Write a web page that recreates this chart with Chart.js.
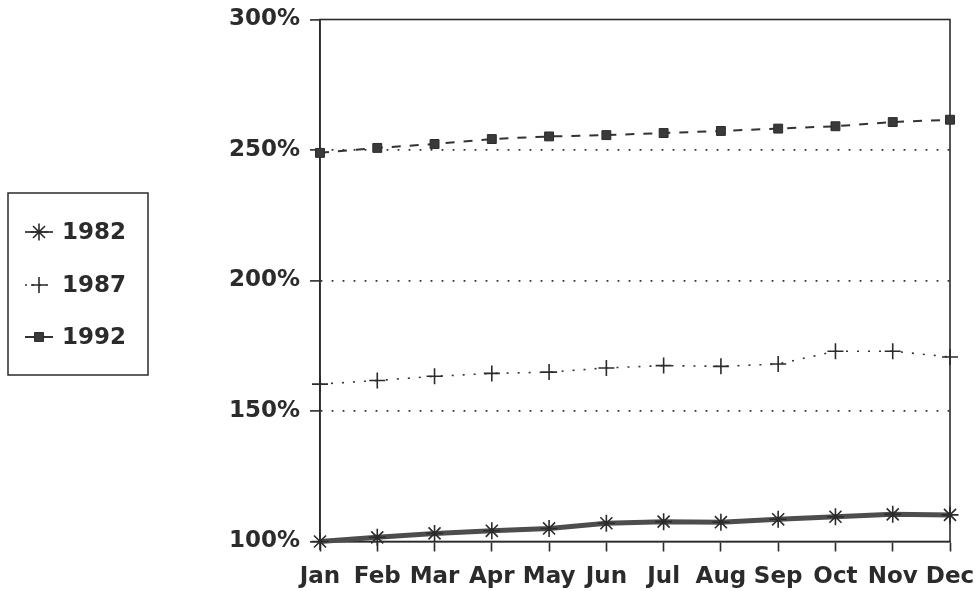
<!DOCTYPE html>
<html>
<head>
<meta charset="utf-8">
<script src="https://cdn.jsdelivr.net/npm/chart.js@4/dist/chart.umd.min.js"></script>
<style>
  html, body { margin: 0; padding: 0; background: #ffffff; }
  #wrap { width: 977px; height: 591px; position: relative; }
</style>
</head>
<body>
<div id="wrap"><canvas id="c" width="977" height="591"></canvas></div>
<script>
const months = ['Jan', 'Feb', 'Mar', 'Apr', 'May', 'Jun', 'Jul', 'Aug', 'Sep', 'Oct', 'Nov', 'Dec'];
const seriesNames = ['1982', '1987', '1992'];
const values1982 = [100, 101.6, 103.1, 104.1, 105.0, 107.0, 107.6, 107.4, 108.5, 109.5, 110.4, 110.2];
const values1987 = [160.3, 161.7, 163.3, 164.4, 164.9, 166.5, 167.4, 167.1, 168.0, 172.9, 172.9, 170.7];
const values1992 = [248.9, 250.8, 252.3, 254.2, 255.2, 255.7, 256.5, 257.3, 258.2, 259.1, 260.7, 261.6];
const yTickValues = [100, 150, 200, 250, 300];
const yTickSuffix = '%';

const INK = '#2b2b2b';
const FONT = { family: 'DejaVu Sans', weight: 'bold', size: 23 };

const framePlugin = {
  id: 'frame',
  beforeDatasetsDraw(chart) {
    const { ctx, chartArea: a } = chart;
    ctx.save();
    ctx.strokeStyle = INK;
    ctx.lineWidth = 1.6;
    ctx.setLineDash([]);
    ctx.strokeRect(a.left, a.top, a.right - a.left, a.bottom - a.top);
    ctx.restore();
  }
};

const boxLegendPlugin = {
  id: 'boxLegend',
  afterDraw(chart) {
    const { ctx } = chart;
    const box = { x: 8, y: 193, w: 140, h: 182 };
    ctx.save();
    ctx.strokeStyle = INK;
    ctx.fillStyle = INK;
    ctx.lineWidth = 1.5;
    ctx.setLineDash([]);
    ctx.strokeRect(box.x, box.y, box.w, box.h);
    const rowY = [232, 285, 337];
    chart.data.datasets.forEach((ds, i) => {
      const y = rowY[i];
      ctx.save();
      ctx.strokeStyle = ds.borderColor;
      ctx.lineWidth = Math.min(ds.borderWidth, 2);
      ctx.setLineDash(ds.legendDash || []);
      ctx.beginPath();
      ctx.moveTo(25, y);
      ctx.lineTo(53, y);
      ctx.stroke();
      ctx.restore();
      ctx.save();
      ctx.strokeStyle = ds.pointBorderColor;
      ctx.fillStyle = ds.pointBackgroundColor;
      ctx.lineWidth = ds.pointBorderWidth;
      Chart.helpers.drawPoint(ctx, {
        pointStyle: ds.pointStyle,
        radius: ds.pointRadius,
        borderWidth: ds.pointBorderWidth,
        rotation: 0
      }, 39, y);
      ctx.restore();
      ctx.save();
      ctx.fillStyle = INK;
      ctx.font = 'bold 23px "DejaVu Sans"';
      ctx.textBaseline = 'middle';
      ctx.textAlign = 'left';
      ctx.fillText(ds.label, 62, y + 1);
      ctx.restore();
    });
    ctx.restore();
  }
};

const chart = new Chart(document.getElementById('c'), {
  type: 'line',
  data: {
    labels: months,
    datasets: [
      {
        label: seriesNames[0],
        data: values1982,
        borderColor: '#4d4d4d',
        borderWidth: 5,
        pointStyle: 'star',
        pointRadius: 8.5,
        pointBorderWidth: 1.6,
        pointBorderColor: '#2b2b2b',
        pointBackgroundColor: '#2b2b2b',
        tension: 0,
        clip: false,
        legendDash: []
      },
      {
        label: seriesNames[1],
        data: values1987,
        borderColor: '#333333',
        borderWidth: 1.6,
        borderDash: [2, 9],
        pointStyle: 'cross',
        pointRadius: 8,
        pointBorderWidth: 1.6,
        pointBorderColor: '#2b2b2b',
        pointBackgroundColor: '#2b2b2b',
        tension: 0,
        clip: false,
        legendDash: [2, 5]
      },
      {
        label: seriesNames[2],
        data: values1992,
        borderColor: '#333333',
        borderWidth: 2,
        borderDash: [9, 9],
        pointStyle: 'rect',
        pointRadius: 6.3,
        pointBorderWidth: 1,
        pointBorderColor: '#2b2b2b',
        pointBackgroundColor: '#3a3a3a',
        tension: 0,
        clip: false,
        legendDash: []
      }
    ]
  },
  options: {
    responsive: false,
    animation: false,
    devicePixelRatio: 1,
    layout: { padding: { left: 226, right: 27, top: 19.5, bottom: 0 } },
    plugins: {
      legend: { display: false },
      tooltip: { enabled: false }
    },
    scales: {
      x: {
        offset: false,
        afterFit(scale) {
          scale.paddingRight = 0;
          scale.paddingLeft = 0;
          scale.height = 49.5;
        },
        grid: {
          display: true,
          drawOnChartArea: false,
          drawTicks: true,
          tickLength: 10,
          tickColor: INK,
          tickWidth: 1.6,
          offset: false
        },
        border: { display: true, color: INK, width: 1.6 },
        ticks: {
          color: INK,
          font: FONT,
          padding: 12,
          maxRotation: 0,
          autoSkip: false
        }
      },
      y: {
        min: yTickValues[0],
        max: yTickValues[yTickValues.length - 1],
        afterBuildTicks(scale) {
          scale.ticks = yTickValues.map(v => ({ value: v }));
        },
        afterFit(scale) {
          scale.paddingTop = 0;
          scale.paddingBottom = 0;
          scale.width = 94;
        },
        grid: {
          display: true,
          drawOnChartArea: true,
          drawTicks: true,
          tickLength: 10,
          tickColor: INK,
          tickWidth: 1.6,
          lineWidth: 1.8,
          color: (ctx) => {
            const v = ctx.tick && ctx.tick.value;
            return (v === yTickValues[0] || v === yTickValues[yTickValues.length - 1]) ? 'rgba(0,0,0,0)' : '#333333';
          }
        },
        border: { display: true, color: INK, width: 1.6, dash: [1.8, 9.2] },
        ticks: {
          color: INK,
          font: FONT,
          padding: 10,
          callback: (v) => v + yTickSuffix
        }
      }
    }
  },
  plugins: [framePlugin, boxLegendPlugin]
});
</script>
</body>
</html>
